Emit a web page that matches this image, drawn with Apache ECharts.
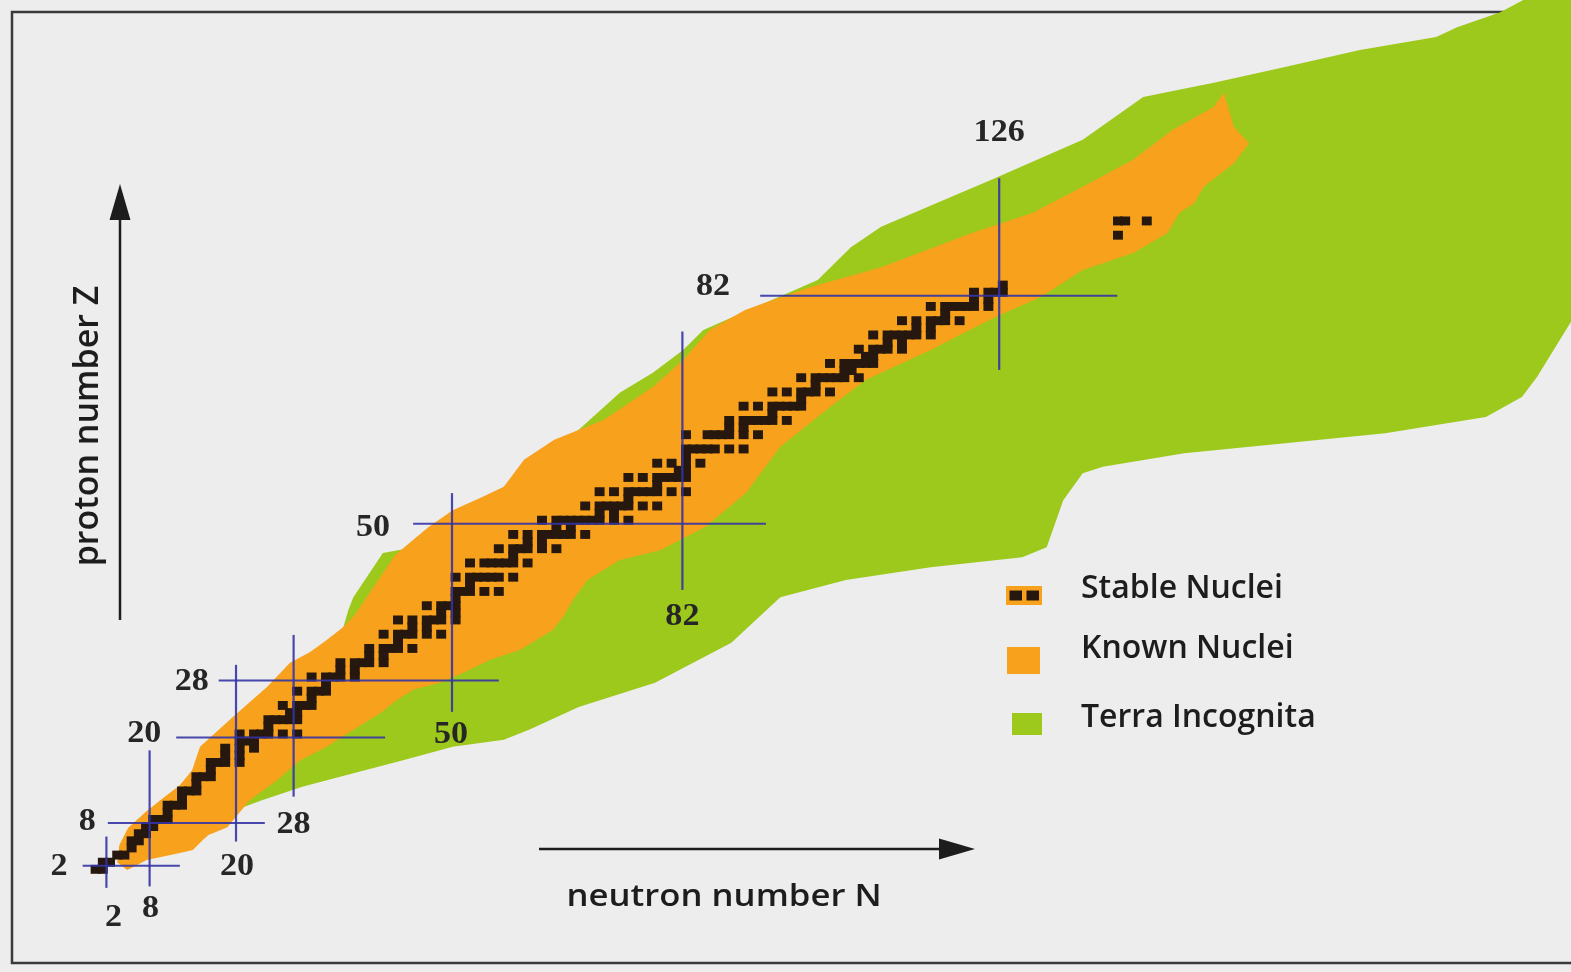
<!DOCTYPE html>
<html>
<head>
<meta charset="utf-8">
<script src="https://cdn.jsdelivr.net/npm/echarts@6/dist/echarts.min.js"></script>
<style>
  html, body { margin: 0; padding: 0; background: #ededed; }
  #chart { width: 1571px; height: 972px; }
</style>
</head>
<body>
<div id="chart"></div>
<script>
// Chart of the nuclides: neutron number N across, proton number Z upwards.

// Stable nuclei, one row per element: [Z, [neutron numbers]]
const stableNuclei = [
  [1, [0, 1]], [2, [1, 2]], [3, [3, 4]], [4, [5]], [5, [5, 6]], [6, [6, 7]],
  [7, [7, 8]], [8, [8, 9, 10]], [9, [10]], [10, [10, 11, 12]], [11, [12]],
  [12, [12, 13, 14]], [13, [14]], [14, [14, 15, 16]], [15, [16]],
  [16, [16, 17, 18, 20]], [17, [18, 20]], [18, [18, 20, 22]], [19, [20, 21, 22]],
  [20, [20, 22, 23, 24, 26, 28]], [21, [24]], [22, [24, 25, 26, 27, 28]],
  [23, [27, 28]], [24, [26, 28, 29, 30]], [25, [30]], [26, [28, 30, 31, 32]],
  [27, [32]], [28, [30, 32, 33, 34, 36]], [29, [34, 36]], [30, [34, 36, 37, 38, 40]],
  [31, [38, 40]], [32, [38, 40, 41, 42, 44]], [33, [42]], [34, [40, 42, 43, 44, 46, 48]],
  [35, [44, 46]], [36, [42, 44, 46, 47, 48, 50]], [37, [48, 50]], [38, [46, 48, 49, 50]],
  [39, [50]], [40, [50, 51, 52, 54, 56]], [41, [52]], [42, [50, 52, 53, 54, 55, 56, 58]],
  [44, [52, 54, 55, 56, 57, 58, 60]], [45, [58]], [46, [56, 58, 59, 60, 62, 64]],
  [47, [60, 62]], [48, [58, 60, 62, 63, 64, 65, 66, 68]], [49, [64, 66]],
  [50, [62, 64, 65, 66, 67, 68, 69, 70, 72, 74]], [51, [70, 72]],
  [52, [68, 70, 71, 72, 73, 74, 76, 78]], [53, [74]],
  [54, [70, 72, 74, 75, 76, 77, 78, 80, 82]], [55, [78]],
  [56, [74, 76, 78, 79, 80, 81, 82]], [57, [81, 82]], [58, [78, 80, 82, 84]], [59, [82]],
  [60, [82, 83, 84, 85, 86, 88, 90]], [62, [82, 85, 86, 87, 88, 90, 92]], [63, [88, 90]],
  [64, [88, 90, 91, 92, 93, 94, 96]], [65, [94]], [66, [90, 92, 94, 95, 96, 97, 98]],
  [67, [98]], [68, [94, 96, 98, 99, 100, 102]], [69, [100]],
  [70, [98, 100, 101, 102, 103, 104, 106]], [71, [104, 105]],
  [72, [102, 104, 105, 106, 107, 108]], [73, [107, 108]], [74, [106, 108, 109, 110, 112]],
  [75, [110, 112]], [76, [108, 110, 111, 112, 113, 114, 116]], [77, [114, 116]],
  [78, [112, 114, 116, 117, 118, 120]], [79, [118]],
  [80, [116, 118, 119, 120, 121, 122, 124]], [81, [122, 124]],
  [82, [122, 124, 125, 126]], [83, [126]], [90, [142]], [92, [142, 143, 146]]
];

// Outline of the region of nuclei observed so far, as [N, Z]
const knownNucleiOutline = [
  [3.5, 2.5], [3.8, 4.9], [5.0, 7.3], [7.4, 9.5], [10.1, 11.7], [12.2, 13.3],
  [13.9, 15.4], [15.0, 18.7], [19.6, 22.9], [24.3, 27.1], [27.5, 30.5], [30.3, 32.0],
  [32.6, 33.7], [34.9, 35.5], [36.5, 37.2], [39.3, 41.4], [42.1, 45.6], [46.7, 49.5],
  [50.1, 51.9], [53.9, 53.6], [57.2, 55.2], [60.0, 59.0], [64.2, 61.8], [71.1, 64.6],
  [77.9, 69.2], [82.1, 73.0], [85.8, 77.2], [90.7, 80.0], [95.6, 81.8], [99.7, 83.2],
  [109.6, 86.0], [122.2, 90.8], [130.6, 93.6], [137.6, 97.3], [144.6, 101.1],
  [150.1, 105.3], [155.8, 108.5], [157.2, 110.5], [158.6, 105.7], [160.7, 103.4],
  [158.6, 100.6], [154.4, 97.3], [153.1, 95.0], [151.0, 93.6], [149.4, 90.8],
  [144.6, 88.0], [137.6, 85.6], [131.7, 81.8], [126.1, 79.3], [121.9, 77.2],
  [116.5, 74.4], [107.5, 70.2], [102.5, 66.4], [95.6, 60.8], [90.8, 54.3],
  [85.1, 49.5], [78.9, 46.3], [73.3, 44.9], [68.8, 42.1], [66.8, 39.3], [65.4, 36.9],
  [64.0, 35.1], [59.4, 32.3], [55.3, 30.9], [51.8, 29.2], [48.3, 27.7], [44.6, 26.7],
  [42.4, 25.3], [40.0, 23.4], [36.3, 21.1], [32.6, 18.7], [28.9, 16.8], [25.7, 14.0],
  [21.9, 11.2], [18.8, 7.4], [16.1, 6.3], [15.4, 5.6], [14.0, 4.2], [12.2, 3.8],
  [7.6, 2.8], [4.9, 1.4]
];

// Outline of the predicted but still unexplored region, as [N, Z]
const terraIncognitaOutline = [
  [15.8, 5.9], [16.7, 11.2], [21.9, 19.0], [28.9, 26.7], [34.4, 33.7], [35.6, 37.9],
  [36.3, 39.7], [40.4, 45.9], [44.2, 46.6], [51.1, 51.2], [56.7, 54.5], [57.2, 55.2],
  [60.7, 59.0], [67.6, 63.2], [73.3, 68.4], [77.9, 71.2], [82.1, 74.4], [84.9, 77.2],
  [92.8, 80.7], [96.9, 82.5], [100.8, 84.2], [105.4, 88.8], [109.6, 91.7], [125.0, 98.3],
  [137.6, 103.9], [146.0, 109.9], [155.8, 111.9], [165.7, 114.1], [176.1, 116.5],
  [186.7, 118.3], [189.6, 119.7], [195.6, 121.8], [199.7, 124.0], [206.0, 124.0],
  [206.0, 79.3], [200.7, 70.6], [198.6, 67.8], [193.6, 65.0], [179.6, 62.7],
  [165.7, 61.3], [151.7, 59.9], [140.4, 58.0], [137.6, 57.1], [134.9, 53.3],
  [132.6, 46.7], [129.2, 45.3], [116.5, 43.9], [104.7, 42.1], [95.6, 39.7],
  [88.8, 33.3], [78.2, 27.7], [67.6, 24.3], [60.7, 21.1], [57.2, 19.7], [50.1, 18.7],
  [43.2, 16.8], [36.3, 15.0], [29.2, 13.1], [23.6, 11.2], [18.8, 9.4], [16.7, 7.4]
];

// Magic numbers and the stretch of each guide line
const magicZ = [2, 8, 20, 28, 50, 82];
const magicZSpanN = [[-1.3, 12.2], [2.2, 24.0], [11.7, 40.7], [17.6, 56.5], [44.6, 93.6], [92.8, 142.4]];
const magicN = [2, 8, 20, 28, 50, 82, 126];
const magicNSpanZ = [[-1.1, 6.1], [-0.9, 18.2], [5.4, 30.2], [11.7, 34.4], [23.6, 54.3], [40.7, 77.0], [71.6, 98.5]];

const legendLabels = ['Stable Nuclei', 'Known Nuclei', 'Terra Incognita'];
const titleZ = 'proton number Z';
const titleN = 'neutron number N';

// ---- styling ----
const COLOR_GREEN = '#9cc91c';
const COLOR_ORANGE = '#f8a11c';
const COLOR_STABLE = '#26180f';
const COLOR_MAGIC = '#3434a4';
const COLOR_INK = '#1d1d1d';
const SANS = '"Open Sans", "Noto Sans", sans-serif';
const SERIF = '"Liberation Serif", "DejaVu Serif", serif';

// label placement relative to the end of each guide line: [dx, dy] in px
const zLabelOffset = { 2: [-15, 1], 8: [-12, -1], 20: [-15, -4], 28: [-10, 1], 50: [-23, 4], 82: [-30, -9] };
const nLabelOffset = { 2: [7, 30], 8: [1, 23], 20: [1, 25], 28: [0, 28], 50: [-1, 23], 82: [0, 27], 126: [0, -45] };

const stableCells = [];
stableNuclei.forEach(([z, ns]) => ns.forEach(n => stableCells.push([n, z])));

const magicLines = [];
magicZ.forEach((z, i) => magicLines.push({ kind: 'Z', magic: z, value: [magicZSpanN[i][0], z, magicZSpanN[i][1], z] }));
magicN.forEach((n, i) => magicLines.push({ kind: 'N', magic: n, value: [n, magicNSpanZ[i][0], n, magicNSpanZ[i][1]] }));

function regionSeries(name, outline, color, z) {
  return {
    type: 'custom', name, z, silent: true, clip: true,
    coordinateSystem: 'cartesian2d',
    data: [[0, 0]],
    renderItem: (params, api) => ({
      type: 'polygon',
      shape: { points: outline.map(p => api.coord(p)) },
      style: { fill: color }
    })
  };
}

const chart = echarts.init(document.getElementById('chart'), null, { renderer: 'canvas' });

chart.setOption({
  animation: false,
  backgroundColor: '#ededed',
  grid: { left: 0, right: 0, top: 0, bottom: 0, containLabel: false },
  xAxis: { type: 'value', min: -12.78, max: 205.42, show: false, splitLine: { show: false } },
  yAxis: { type: 'value', min: -12.91, max: 123.51, show: false, splitLine: { show: false } },
  series: [
    regionSeries('Terra Incognita', terraIncognitaOutline, COLOR_GREEN, 2),
    regionSeries('Known Nuclei', knownNucleiOutline, COLOR_ORANGE, 3),
    {
      type: 'custom', name: 'Stable Nuclei', z: 4, silent: true,
      coordinateSystem: 'cartesian2d',
      data: stableCells,
      renderItem: (params, api) => {
        const c = api.coord([api.value(0) + 0.5, api.value(1) + 0.5]);
        const s = api.size([1, 1]);
        const w = s[0] * 1.38, h = s[1] * 1.25;
        return {
          type: 'rect',
          shape: { x: c[0] - w / 2, y: c[1] - h / 2, width: w, height: h },
          style: { fill: COLOR_STABLE }
        };
      }
    },
    {
      type: 'custom', name: 'magic numbers', z: 5, silent: true, clip: false,
      coordinateSystem: 'cartesian2d',
      data: magicLines.map(m => m.value),
      renderItem: (params, api) => {
        const m = magicLines[params.dataIndex];
        const p1 = api.coord([m.value[0], m.value[1]]);
        const p2 = api.coord([m.value[2], m.value[3]]);
        let tx, ty, align;
        if (m.kind === 'Z') {
          const o = zLabelOffset[m.magic];
          tx = p1[0] + o[0]; ty = p1[1] + o[1]; align = 'right';
        } else {
          const o = nLabelOffset[m.magic];
          const anchor = o[1] < 0 ? p2 : p1;
          tx = anchor[0] + o[0]; ty = anchor[1] + o[1]; align = 'center';
        }
        return {
          type: 'group',
          children: [
            {
              type: 'line',
              shape: { x1: p1[0], y1: p1[1], x2: p2[0], y2: p2[1] },
              style: { stroke: COLOR_MAGIC, lineWidth: 2.2, opacity: 0.9 }
            },
            {
              type: 'text', x: tx, y: ty, scaleX: 1.1, scaleY: 1,
              style: {
                text: String(m.magic), fill: '#262626',
                font: 'bold 31px ' + SERIF,
                align: align, verticalAlign: 'middle',
                textAlign: align, textVerticalAlign: 'middle'
              }
            }
          ]
        };
      }
    }
  ],
  graphic: [
    // page frame
    {
      type: 'polyline', z: 0, silent: true,
      shape: { points: [[1575, 12], [12, 12], [12, 963], [1575, 963]] },
      style: { stroke: '#3a3a3a', lineWidth: 2.5, fill: null }
    },
    // proton axis arrow
    {
      type: 'line', z: 10, silent: true,
      shape: { x1: 120, y1: 620, x2: 120, y2: 212 },
      style: { stroke: COLOR_INK, lineWidth: 2.5 }
    },
    {
      type: 'polygon', z: 10, silent: true,
      shape: { points: [[120, 184], [109.5, 220], [130.5, 220]] },
      style: { fill: COLOR_INK }
    },
    // neutron axis arrow
    {
      type: 'line', z: 10, silent: true,
      shape: { x1: 539, y1: 849, x2: 945, y2: 849 },
      style: { stroke: COLOR_INK, lineWidth: 2.5 }
    },
    {
      type: 'polygon', z: 10, silent: true,
      shape: { points: [[975, 849], [939, 838.5], [939, 859.5]] },
      style: { fill: COLOR_INK }
    },
    // axis titles
    {
      type: 'text', z: 10, silent: true, x: 88, y: 426, rotation: Math.PI / 2,
      style: {
        text: titleZ, fill: COLOR_INK, font: '600 34px ' + SANS,
        align: 'center', verticalAlign: 'middle', textAlign: 'center', textVerticalAlign: 'middle'
      }
    },
    {
      type: 'text', z: 10, silent: true, x: 724, y: 897, scaleX: 1.12,
      style: {
        text: titleN, fill: COLOR_INK, font: '600 31px ' + SANS,
        align: 'center', verticalAlign: 'middle', textAlign: 'center', textVerticalAlign: 'middle'
      }
    },
    // legend
    { type: 'rect', z: 10, silent: true, shape: { x: 1006, y: 586, width: 36, height: 19 }, style: { fill: COLOR_ORANGE } },
    { type: 'rect', z: 11, silent: true, shape: { x: 1009.5, y: 590.5, width: 12.5, height: 10 }, style: { fill: COLOR_STABLE } },
    { type: 'rect', z: 11, silent: true, shape: { x: 1026.5, y: 590.5, width: 12.5, height: 10 }, style: { fill: COLOR_STABLE } },
    { type: 'rect', z: 10, silent: true, shape: { x: 1007, y: 647, width: 33, height: 27 }, style: { fill: COLOR_ORANGE } },
    { type: 'rect', z: 10, silent: true, shape: { x: 1012, y: 713, width: 30, height: 22 }, style: { fill: COLOR_GREEN } },
    {
      type: 'text', z: 10, silent: true, x: 1081, y: 589,
      style: { text: legendLabels[0], fill: COLOR_INK, font: '600 32px ' + SANS, align: 'left', verticalAlign: 'middle', textAlign: 'left', textVerticalAlign: 'middle' }
    },
    {
      type: 'text', z: 10, silent: true, x: 1081, y: 649,
      style: { text: legendLabels[1], fill: COLOR_INK, font: '600 32px ' + SANS, align: 'left', verticalAlign: 'middle', textAlign: 'left', textVerticalAlign: 'middle' }
    },
    {
      type: 'text', z: 10, silent: true, x: 1081, y: 718,
      style: { text: legendLabels[2], fill: COLOR_INK, font: '600 32px ' + SANS, align: 'left', verticalAlign: 'middle', textAlign: 'left', textVerticalAlign: 'middle' }
    }
  ]
});
</script>
</body>
</html>
